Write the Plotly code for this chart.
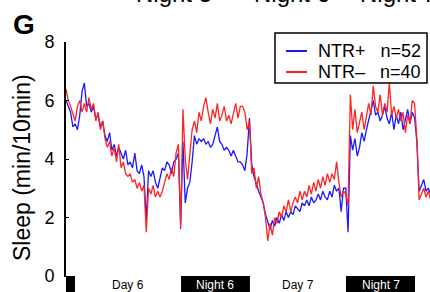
import numpy as np
import plotly.graph_objects as go

# ---------------- data (sleep, min per 10 min; one value every 20 min) ----------------
STEP_H = 1.0 / 3.0  # hours between samples

ntr_plus = [
    6.0, 5.8, 5.6, 5.1, 5.2, 5.0, 5.5, 6.3, 6.6, 5.8,
    5.9, 5.6, 5.8, 5.4, 5.5, 5.1, 5.3, 4.8, 4.6, 4.9,
    4.3, 4.5, 4.1, 4.4, 4.2, 4.0, 4.3, 3.8, 3.9, 3.7,
    4.2, 3.6, 3.5, 3.8, 3.4, 1.9, 3.6, 3.4, 3.6, 3.2,
    3.0, 3.4, 3.7, 3.6, 3.9, 3.8, 3.5, 3.9, 4.0, 4.2,
    1.75, 4.6, 2.5, 3.0, 3.2, 3.9, 4.8, 4.5, 4.7, 4.6,
    4.7, 4.5, 4.6, 4.4, 4.5, 4.8, 5.1, 4.6, 4.5, 4.3,
    4.4, 4.3, 4.1, 4.3, 4.1, 3.9, 3.9, 3.8, 3.6, 4.2,
    5.4, 3.8, 3.4, 3.1, 2.9, 2.7, 2.5, 2.1, 1.8, 1.6,
    1.9, 1.7, 2.0, 1.8, 2.1, 1.9, 2.2, 2.0, 2.2, 2.1,
    2.4, 2.3, 2.2, 2.5, 2.4, 2.6, 2.4, 2.7, 2.5, 2.6,
    2.8, 2.6, 2.9, 2.7, 2.6, 2.9, 2.7, 3.1, 2.9, 3.0,
    2.2, 3.0, 3.0, 1.5, 4.8, 4.3, 4.7, 4.1, 4.4, 4.9,
    4.6, 5.0, 5.3, 5.6, 6.0, 5.5, 5.6, 5.3, 5.5, 5.8,
    5.4, 5.2, 5.6, 5.0, 5.5, 5.2, 5.6, 5.0, 5.3, 5.7,
    5.2, 5.6, 5.4, 4.6, 2.9, 3.1, 3.3, 2.9, 3.0, 2.8,
]

ntr_minus = [
    6.4, 6.0, 5.8, 5.5, 5.3, 5.8, 6.0, 5.6, 5.9, 5.6,
    6.1, 5.7, 5.9, 5.3, 5.6, 5.0, 5.3, 4.7, 4.4, 4.6,
    4.1, 4.4, 3.9, 4.5, 3.7, 3.9, 3.5, 3.4, 3.5, 3.2,
    3.3, 3.0, 3.2, 2.9, 3.1, 1.5, 3.0, 2.8, 3.1, 2.7,
    2.9, 2.7, 2.9, 3.2, 3.5, 3.3, 3.7, 3.4, 4.2, 4.5,
    1.6, 5.7, 4.0, 3.3, 4.2, 5.0, 5.3, 4.9, 5.6, 5.3,
    5.8, 6.1, 5.6, 5.2, 5.7, 5.4, 5.9, 5.3, 5.5, 5.8,
    5.3, 5.5, 5.2, 5.6, 5.9, 5.4, 5.8, 5.8, 5.6, 5.0,
    5.3, 3.5, 3.7, 3.0, 3.4, 2.8, 2.5, 2.0, 1.2, 1.8,
    1.4, 2.0, 1.8, 2.2, 2.0, 2.4, 2.2, 2.6, 2.2, 2.5,
    2.7, 2.5, 2.9, 2.6, 2.9, 2.7, 3.1, 2.8, 3.2, 2.9,
    3.3, 3.0, 3.4, 3.1, 3.5, 3.2, 3.5, 3.3, 3.9, 3.2,
    2.7, 2.9, 2.8, 2.4, 6.2, 5.0, 5.7, 4.9, 5.2, 5.6,
    5.0, 5.4, 5.9, 5.5, 6.5, 5.8, 5.6, 6.2, 5.5, 5.9,
    5.6, 6.6, 5.5, 5.8, 5.4, 5.7, 5.3, 5.6, 4.9, 5.5,
    5.2, 6.0, 5.9, 4.7, 2.6, 2.8, 3.0, 2.7, 2.9, 2.6,
]

series_names = ["NTR+\u00a0\u00a0\u00a0n=52", "NTR\u2013\u00a0\u00a0\u00a0n=40"]
series_colors = ["rgb(25,25,255)", "rgb(255,35,35)"]

# light/dark phases (hours from plot start)
phase_labels = ["", "Day 6", "Night 6", "Day 7", "Night 7", ""]
phase_starts = [0.0, 1.31, 16.72, 26.74, 40.70, 50.73]
phase_dark = [True, False, True, False, True, False]
X_MAX = 52.91

y_ticks = [0, 2, 4, 6, 8]
top_labels = ["Night 5", "Night 6", "Night 7"]
top_label_x = [15.7, 32.85, 48.25]

# ---------------- figure ----------------
W, H = 430, 292
ML, MR, MT, MB = 66, 0, 42, 16
PW, PH = W - ML - MR, H - MT - MB

t = np.arange(len(ntr_plus)) * STEP_H

FONT = "Liberation Sans, Arial, Helvetica, sans-serif"


def px_x(p):
    return (p - ML) / PW


def px_y(p):
    return (MT + PH - p) / PH


def xp(h):
    return h / X_MAX


fig = go.Figure()
for vals, name, col in zip([ntr_plus, ntr_minus], series_names, series_colors):
    fig.add_trace(go.Scatter(x=t, y=vals, mode="lines", name=name,
                             line=dict(color=col, width=1.3)))

shapes = []
annotations = []

# light/dark bar under the axis
ends = phase_starts[1:] + [X_MAX]
for lab, s, e, dark in zip(phase_labels, phase_starts, ends, phase_dark):
    shapes.append(dict(type="rect", xref="paper", yref="paper",
                       x0=xp(s), x1=xp(e), y0=-MB / PH, y1=0,
                       fillcolor="black" if dark else "white",
                       line=dict(width=0), layer="above"))
    if lab:
        annotations.append(dict(text=lab, xref="paper", yref="paper",
                                x=xp((s + e) / 2), y=px_y(285),
                                xanchor="center", yanchor="middle", showarrow=False,
                                font=dict(size=12, family=FONT,
                                          color="white" if dark else "black")))

# legend box (drawn by hand to match the compact original)
shapes.append(dict(type="rect", xref="paper", yref="paper",
                   x0=px_x(275), x1=px_x(427), y0=px_y(83), y1=px_y(33),
                   fillcolor="white", line=dict(color="black", width=1.5), layer="above"))
for k, (name, col) in enumerate(zip(series_names, series_colors)):
    yy = 51 + 21 * k
    shapes.append(dict(type="line", xref="paper", yref="paper",
                       x0=px_x(286), x1=px_x(307), y0=px_y(yy), y1=px_y(yy),
                       line=dict(color=col, width=2), layer="above"))
    annotations.append(dict(text=name, xref="paper", yref="paper",
                            x=px_x(316), y=px_y(yy), xanchor="left", yanchor="middle",
                            showarrow=False,
                            font=dict(size=18, family=FONT, color="black")))

for lab, h in zip(top_labels, top_label_x):
    annotations.append(dict(text=lab, xref="paper", yref="paper", x=xp(h),
                            y=px_y(9), xanchor="center", yanchor="bottom",
                            showarrow=False, font=dict(size=24, family=FONT, color="black")))

annotations.append(dict(text="Sleep (min/10min)", xref="paper", yref="paper",
                        x=px_x(22), y=px_y(168), textangle=-90,
                        xanchor="center", yanchor="middle", showarrow=False,
                        font=dict(size=23, family=FONT, color="black")))
annotations.append(dict(text="<b>G</b>", xref="paper", yref="paper",
                        x=px_x(11), y=px_y(24),
                        xanchor="left", yanchor="middle", showarrow=False,
                        font=dict(size=28, family=FONT, color="black")))

fig.update_layout(
    width=W, height=H,
    margin=dict(l=ML, r=MR, t=MT, b=MB, pad=0),
    paper_bgcolor="white", plot_bgcolor="white",
    font=dict(family=FONT, color="black"),
    showlegend=False,
    xaxis=dict(range=[0, X_MAX], showgrid=False, zeroline=False, showticklabels=False,
               ticks="", showline=True, linecolor="black", linewidth=1),
    yaxis=dict(range=[0, 8], tickvals=y_ticks, showgrid=False, zeroline=False,
               showline=True, linecolor="black", linewidth=2,
               ticks="inside", ticklen=3, tickcolor="black",
               tickfont=dict(size=18, family=FONT, color="black"),
               ticklabelstandoff=6),
    shapes=shapes,
    annotations=annotations,
)

fig.write_html("out.html", config={"displayModeBar": False, "staticPlot": True},
               post_script="document.body.style.margin='0px';")
